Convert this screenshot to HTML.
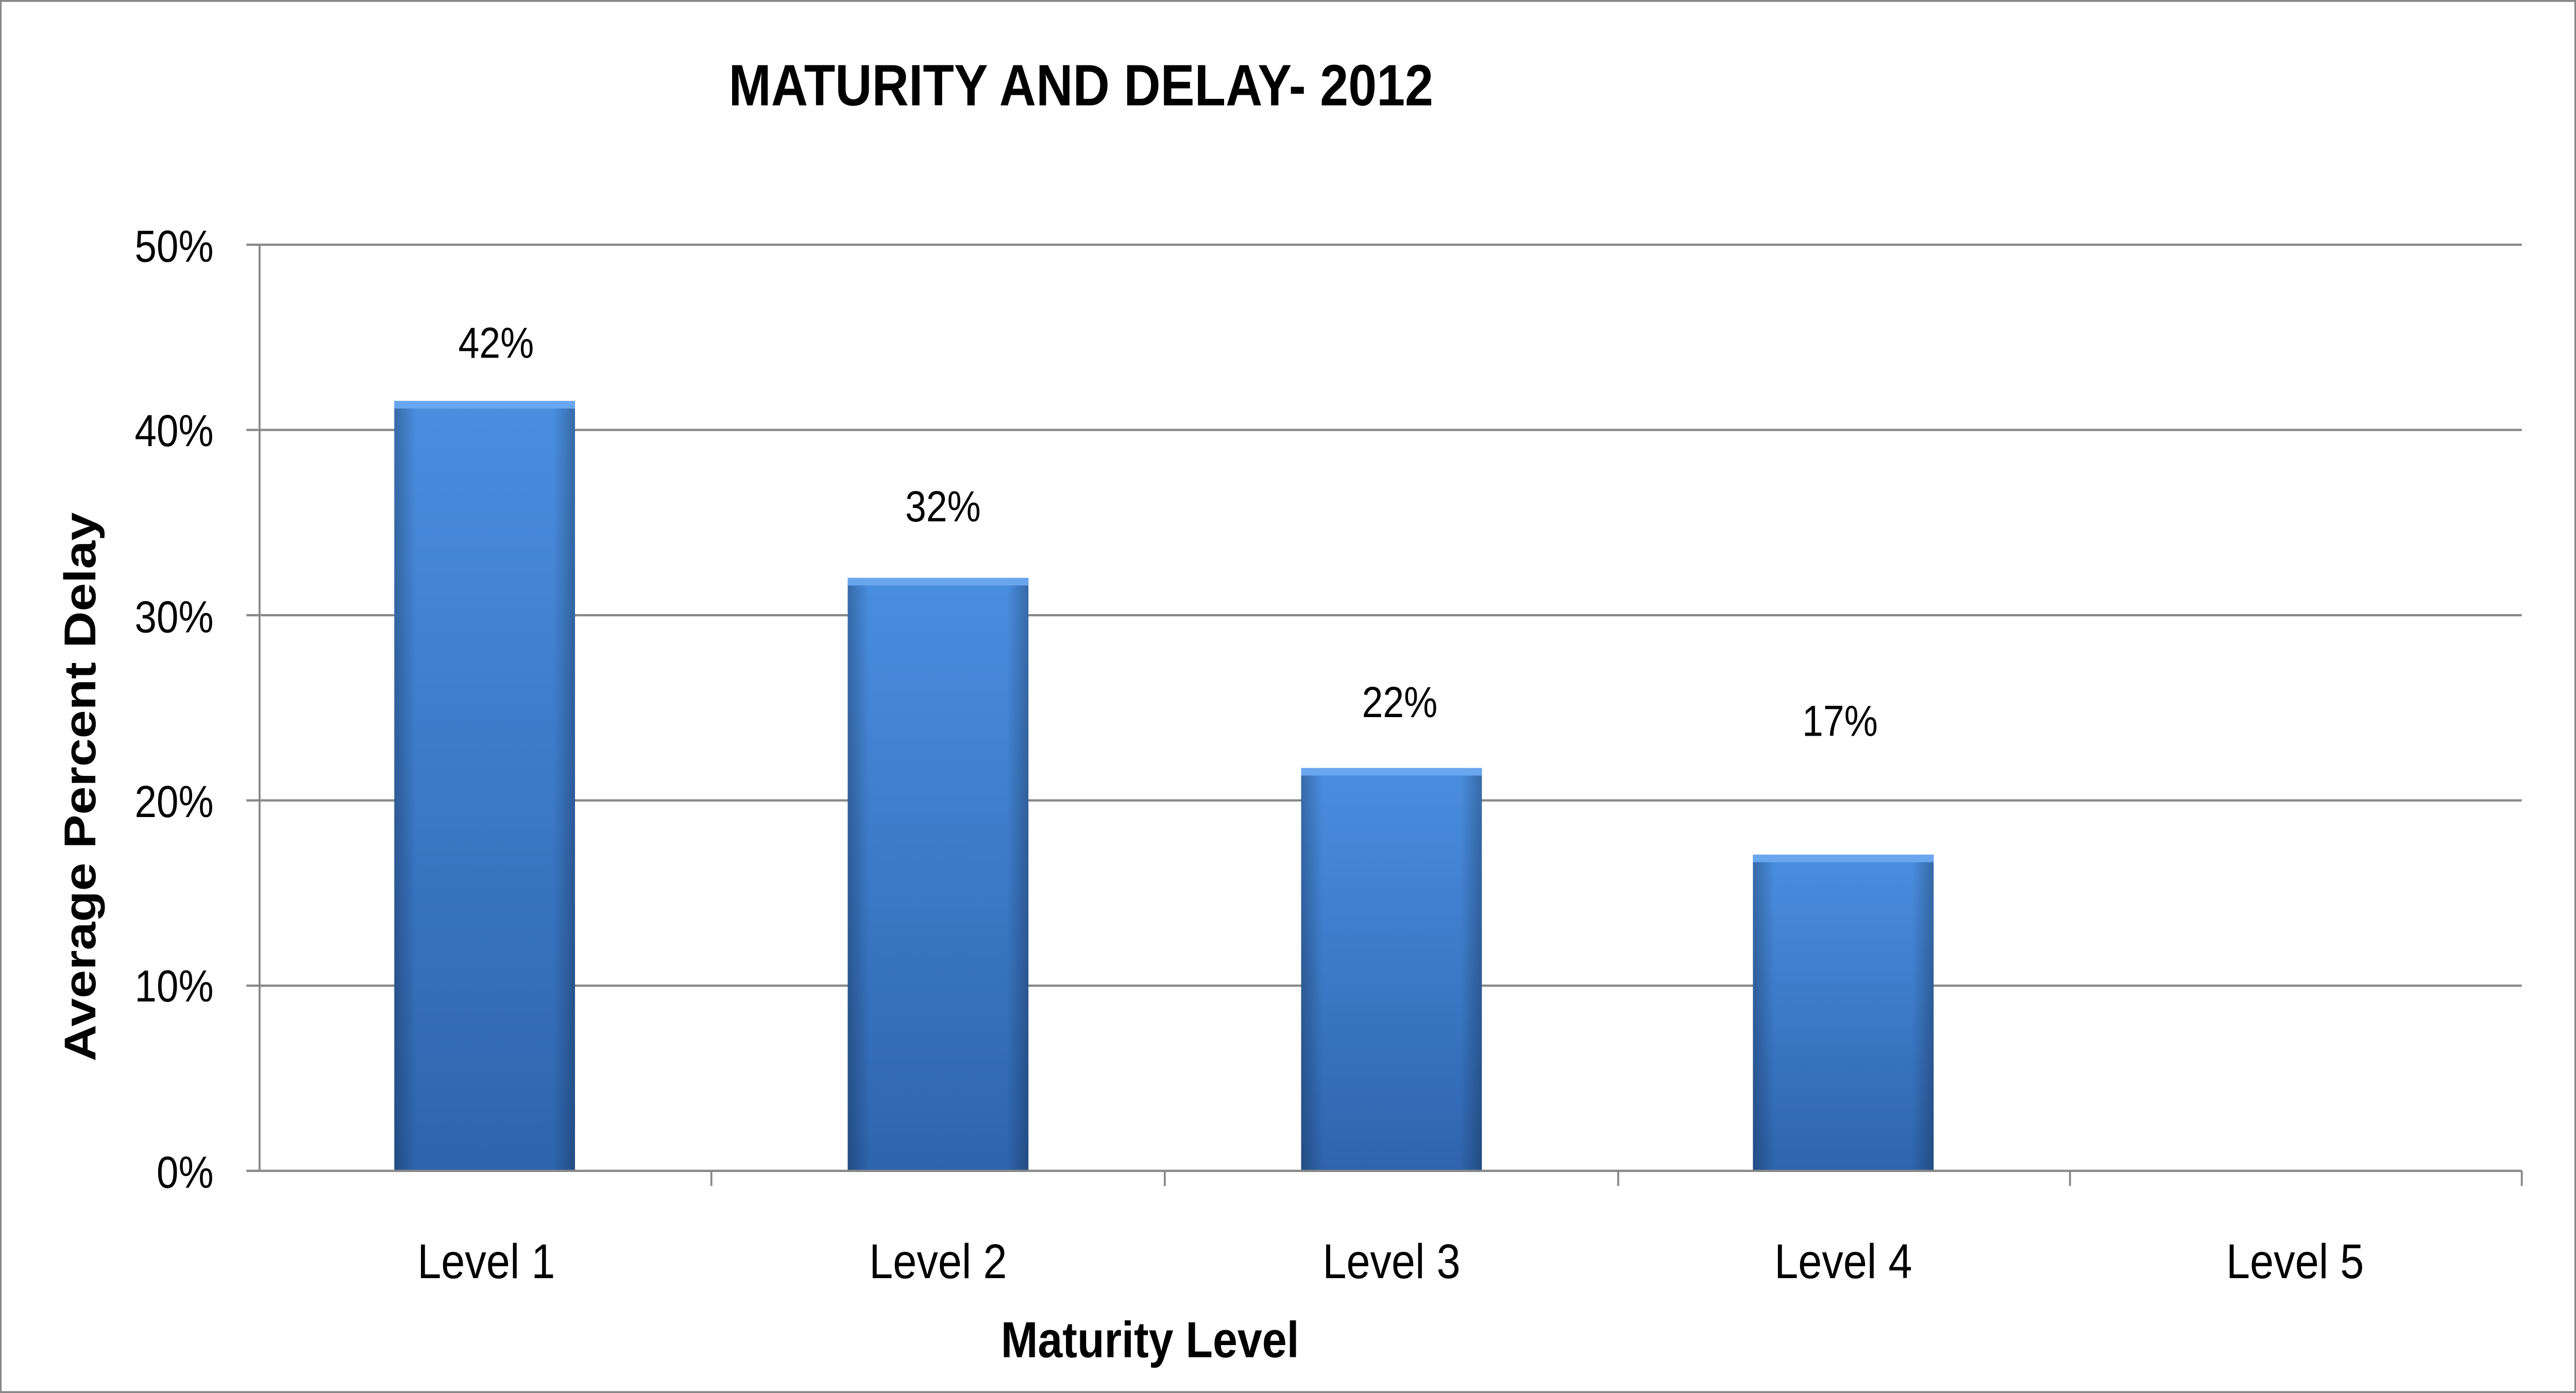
<!DOCTYPE html>
<html><head><meta charset="utf-8"><style>
html,body{margin:0;padding:0;background:#fff;width:100%;height:100%;overflow:hidden}
svg{display:block;position:absolute;left:0;top:0;width:100vw;height:100vh}
text{font-family:"Liberation Sans",sans-serif;fill:#000}
</style></head><body>
<svg viewBox="0 0 1568 740" preserveAspectRatio="none" xmlns="http://www.w3.org/2000/svg">
<defs>
<linearGradient id="v" x1="0" y1="0" x2="0" y2="1">
<stop offset="0" stop-color="#4a8ee0"/><stop offset="1" stop-color="#2e64ad"/>
</linearGradient>
<linearGradient id="h" x1="0" y1="0" x2="1" y2="0">
<stop offset="0" stop-color="#000" stop-opacity="0.25"/>
<stop offset="0.12" stop-color="#000" stop-opacity="0"/>
<stop offset="0.88" stop-color="#000" stop-opacity="0"/>
<stop offset="1" stop-color="#000" stop-opacity="0.25"/>
</linearGradient>
</defs>
<rect x="0.5" y="0.5" width="1567" height="739" fill="#fff" stroke="#888" stroke-width="1"/>
<text x="658" y="56" font-size="31" font-weight="bold" text-anchor="middle">MATURITY AND DELAY- 2012</text>
<g stroke="#888" stroke-width="1.2">
<line x1="158" y1="130" x2="1535" y2="130"/>
<line x1="158" y1="228.4" x2="1535" y2="228.4"/>
<line x1="158" y1="326.8" x2="1535" y2="326.8"/>
<line x1="158" y1="425.2" x2="1535" y2="425.2"/>
<line x1="158" y1="523.6" x2="1535" y2="523.6"/>
<line x1="158" y1="130" x2="158" y2="622"/>
<line x1="150" y1="130" x2="158" y2="130"/>
<line x1="150" y1="228.4" x2="158" y2="228.4"/>
<line x1="150" y1="326.8" x2="158" y2="326.8"/>
<line x1="150" y1="425.2" x2="158" y2="425.2"/>
<line x1="150" y1="523.6" x2="158" y2="523.6"/>
<line x1="150" y1="622" x2="158" y2="622"/>
<line x1="433" y1="622" x2="433" y2="630"/>
<line x1="709" y1="622" x2="709" y2="630"/>
<line x1="985" y1="622" x2="985" y2="630"/>
<line x1="1260" y1="622" x2="1260" y2="630"/>
<line x1="1535" y1="622" x2="1535" y2="630"/>
</g>
<g font-size="24" text-anchor="end">
<text x="130" y="139">50%</text>
<text x="130" y="237">40%</text>
<text x="130" y="336">30%</text>
<text x="130" y="434">20%</text>
<text x="130" y="532">10%</text>
<text x="130" y="631">0%</text>
</g>
<g>
<rect x="240" y="213" width="110" height="409" fill="url(#v)"/><rect x="240" y="213" width="110" height="409" fill="url(#h)"/><rect x="240" y="213" width="110" height="4" fill="#6aa6ee"/>
<rect x="516" y="307" width="110" height="315" fill="url(#v)"/><rect x="516" y="307" width="110" height="315" fill="url(#h)"/><rect x="516" y="307" width="110" height="4" fill="#6aa6ee"/>
<rect x="792" y="408" width="110" height="214" fill="url(#v)"/><rect x="792" y="408" width="110" height="214" fill="url(#h)"/><rect x="792" y="408" width="110" height="4" fill="#6aa6ee"/>
<rect x="1067" y="454" width="110" height="168" fill="url(#v)"/><rect x="1067" y="454" width="110" height="168" fill="url(#h)"/><rect x="1067" y="454" width="110" height="4" fill="#6aa6ee"/>
</g>
<line x1="158" y1="622" x2="1535" y2="622" stroke="#888" stroke-width="1.2"/>
<g font-size="23" text-anchor="middle">
<text x="302" y="190">42%</text>
<text x="574" y="277">32%</text>
<text x="852" y="381">22%</text>
<text x="1120" y="391">17%</text>
</g>
<g font-size="26" text-anchor="middle">
<text x="296" y="679">Level 1</text>
<text x="571" y="679">Level 2</text>
<text x="847" y="679">Level 3</text>
<text x="1122" y="679">Level 4</text>
<text x="1397" y="679">Level 5</text>
</g>
<text x="700" y="721" font-size="27" font-weight="bold" text-anchor="middle">Maturity Level</text>
<text transform="translate(58,418) rotate(-90)" font-size="27" font-weight="bold" text-anchor="middle">Average Percent Delay</text>
</svg>
</body></html>
